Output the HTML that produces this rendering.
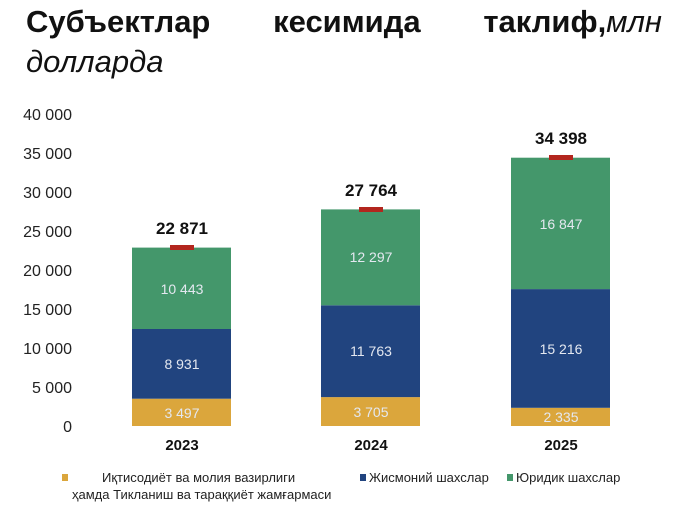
<!DOCTYPE html>
<html><head><meta charset="utf-8"><style>
body{margin:0;width:680px;height:526px;background:#fff;overflow:hidden;font-family:"Liberation Sans",sans-serif;}
.t{position:absolute;left:26px;top:2px;width:636px;font-size:31px;line-height:40px;color:#111;}
</style></head><body>
<div class="t"><div style="display:flex;justify-content:space-between"><b>Субъектлар</b><b>кесимида</b><span><b>таклиф,</b><i>млн</i></span></div><i>долларда</i></div>
<svg width="680" height="526" style="position:absolute;left:0;top:0" font-family="Liberation Sans, sans-serif">
<g font-size="16" fill="#222" text-anchor="end">
<text x="72" y="432">0</text><text x="72" y="393">5 000</text><text x="72" y="354">10 000</text><text x="72" y="315">15 000</text><text x="72" y="276">20 000</text><text x="72" y="237">25 000</text><text x="72" y="198">30 000</text><text x="72" y="159">35 000</text><text x="72" y="120">40 000</text>
</g>
<g>
<rect x="132" y="398.7" width="99" height="27.3" fill="#dba63c"/>
<rect x="132" y="329" width="99" height="69.7" fill="#21447f"/>
<rect x="132" y="247.6" width="99" height="81.4" fill="#44976b"/>
<rect x="321" y="397.1" width="99" height="28.9" fill="#dba63c"/>
<rect x="321" y="305.3" width="99" height="91.8" fill="#21447f"/>
<rect x="321" y="209.4" width="99" height="95.9" fill="#44976b"/>
<rect x="511" y="407.8" width="99" height="18.2" fill="#dba63c"/>
<rect x="511" y="289.1" width="99" height="118.7" fill="#21447f"/>
<rect x="511" y="157.7" width="99" height="131.4" fill="#44976b"/>
<rect x="170" y="245" width="24" height="5" fill="#b3261e"/>
<rect x="359" y="207" width="24" height="5" fill="#b3261e"/>
<rect x="549" y="155" width="24" height="5" fill="#b3261e"/>
</g>
<g font-size="14" fill="#e4e8f0" text-anchor="middle">
<text x="182" y="418">3 497</text><text x="182" y="369">8 931</text><text x="182" y="294">10 443</text>
<text x="371" y="417">3 705</text><text x="371" y="356">11 763</text><text x="371" y="262">12 297</text>
<text x="561" y="422">2 335</text><text x="561" y="354">15 216</text><text x="561" y="229">16 847</text>
</g>
<g font-size="17" font-weight="bold" fill="#111" text-anchor="middle">
<text x="182" y="234">22 871</text><text x="371" y="196">27 764</text><text x="561" y="144">34 398</text>
</g>
<g font-size="15" font-weight="bold" fill="#111" text-anchor="middle">
<text x="182" y="450">2023</text><text x="371" y="450">2024</text><text x="561" y="450">2025</text>
</g>
<g font-size="13" fill="#222">
<rect x="62" y="474" width="6" height="7" fill="#dba63c"/>
<text x="102" y="482">Иқтисодиёт ва молия вазирлиги</text>
<text x="72" y="499">ҳамда Тикланиш ва тараққиёт жамғармаси</text>
<rect x="360" y="474" width="6" height="7" fill="#21447f"/>
<text x="369" y="482">Жисмоний шахслар</text>
<rect x="507" y="474" width="6" height="7" fill="#44976b"/>
<text x="516" y="482">Юридик шахслар</text>
</g>
</svg>
</body></html>
